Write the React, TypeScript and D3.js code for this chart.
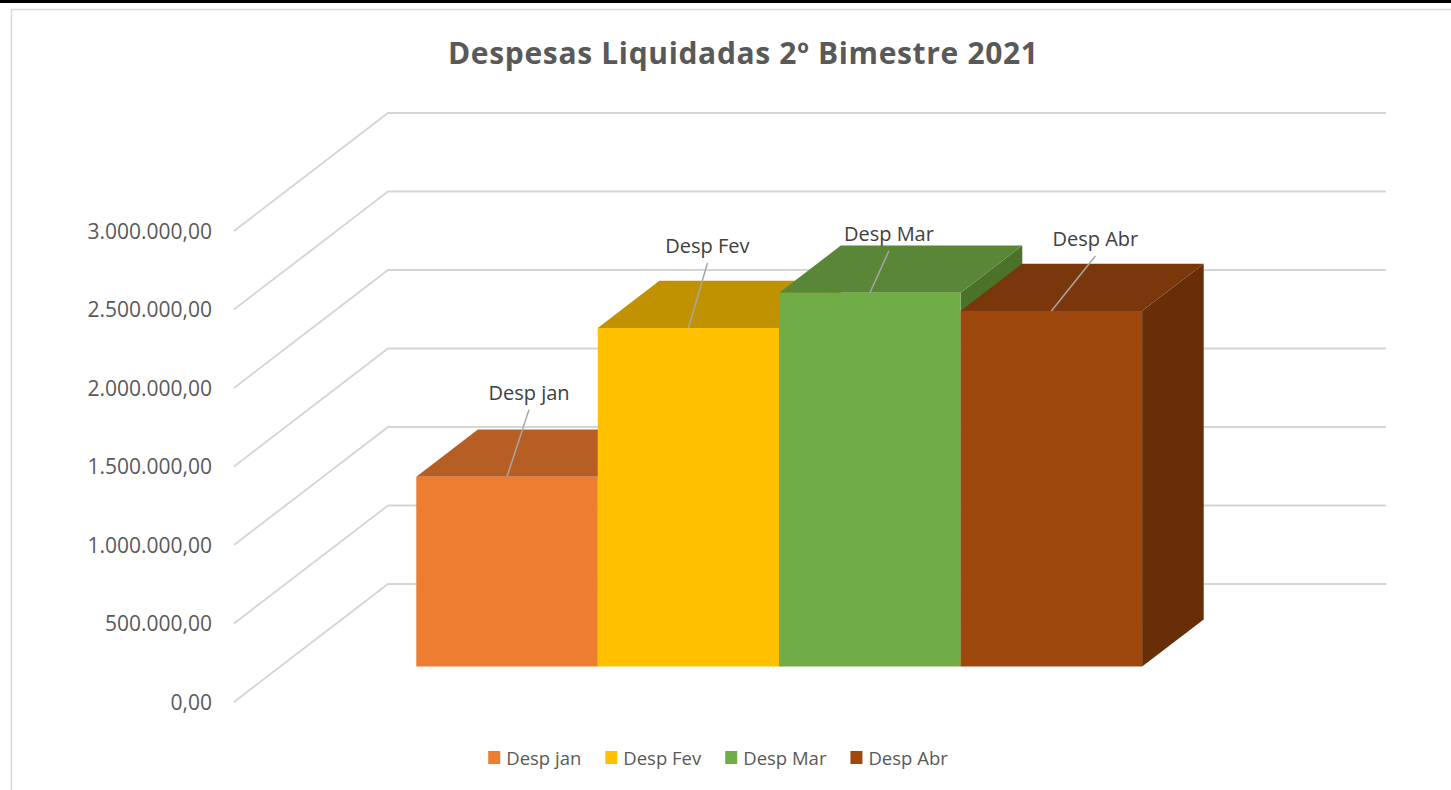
import React, { useEffect, useRef } from "react";
import * as d3 from "d3";

// ---- data ----
const categories: string[] = ["Desp jan", "Desp Fev", "Desp Mar", "Desp Abr"];
const values: number[] = [1210000, 2157000, 2381000, 2265000];
const yTicks: number[] = [0, 500000, 1000000, 1500000, 2000000, 2500000, 3000000];
const titleText = "Despesas Liquidadas 2º Bimestre 2021";

// ---- styles ----
const frontColors = ["#ED7D31", "#FFC000", "#70AD47", "#9E480E"];
const topColors = ["#B65E24", "#C09100", "#5A8637", "#7A370B"];
const sideColors = ["#9B4F1E", "#A37A00", "#4A7229", "#672E08"];
const labelOffsets: [number, number][] = [
  [22, -77],
  [19, -75],
  [19, -52],
  [44, -65],
];

const W = 1451;
const H = 790;

export default function App() {
  const ref = useRef<SVGSVGElement | null>(null);

  useEffect(() => {
    const svg = d3.select(ref.current);
    svg.selectAll("*").remove();

    const font = "'Open Sans', sans-serif";
    const textColor = "#595959";

    // top black rule and chart border
    svg.append("rect").attr("x", 0).attr("y", 0).attr("width", W).attr("height", 3).attr("fill", "#000");
    svg
      .append("rect")
      .attr("x", 11.5)
      .attr("y", 9.5)
      .attr("width", W + 50)
      .attr("height", H + 50)
      .attr("fill", "none")
      .attr("stroke", "#d9d9d9")
      .attr("stroke-width", 1.5);

    // projection
    const originX = 234;
    const originY = 702;
    const DX = 154;
    const DY = 118;
    const floorW = 998;
    const h = d3.scaleLinear().domain([0, 3000000]).range([0, 471]);
    const band = d3
      .scaleBand<string>()
      .domain(categories)
      .range([0, floorW])
      .paddingInner(0)
      .paddingOuter(0.75);
    const P = (x: number, v: number, t: number): [number, number] => [
      originX + x + DX * t,
      originY - h(v) - DY * t,
    ];

    // gridlines (side wall + back wall)
    const grid = svg.append("g");
    yTicks.forEach((v) => {
      const a = P(0, v, 0);
      const b = P(0, v, 1);
      const c = P(floorW, v, 1);
      grid
        .append("polyline")
        .attr("points", [a, b, c].map((p) => p.join(",")).join(" "))
        .attr("fill", "none")
        .attr("stroke", "#d5d5d5")
        .attr("stroke-width", 1.8);
    });

    // axis labels
    const fmt = d3.formatLocale({
      decimal: ",",
      thousands: ".",
      grouping: [3],
      currency: ["R$", ""],
    }).format(",.2f");
    yTicks.forEach((v) => {
      const a = P(0, v, 0);
      svg
        .append("text")
        .attr("x", a[0] - 22)
        .attr("y", a[1] + 7.5)
        .attr("text-anchor", "end")
        .attr("font-family", font)
        .attr("font-size", 21)
        .attr("fill", textColor)
        .text(fmt(v));
    });

    // bars
    const d0 = 0.3;
    const d1 = 0.7;
    const bw = band.bandwidth();
    const poly = (pts: [number, number][], fill: string) =>
      svg
        .append("polygon")
        .attr("points", pts.map((p) => p.join(",")).join(" "))
        .attr("fill", fill);

    categories.forEach((c, i) => {
      const x0 = band(c) as number;
      const x1 = x0 + bw;
      const v = values[i];
      poly([P(x1, 0, d0), P(x1, 0, d1), P(x1, v, d1), P(x1, v, d0)], sideColors[i]);
      poly([P(x0, v, d0), P(x1, v, d0), P(x1, v, d1), P(x0, v, d1)], topColors[i]);
      poly([P(x0, 0, d0), P(x1, 0, d0), P(x1, v, d0), P(x0, v, d0)], frontColors[i]);
    });

    // data labels with leader lines
    categories.forEach((c, i) => {
      const x0 = band(c) as number;
      const v = values[i];
      const [cx, cy] = P(x0 + bw / 2, v, d0);
      const lx = cx + labelOffsets[i][0];
      const ly = cy + labelOffsets[i][1];
      svg
        .append("line")
        .attr("x1", lx)
        .attr("y1", ly + 10)
        .attr("x2", cx)
        .attr("y2", cy)
        .attr("stroke", "#a6a6a6")
        .attr("stroke-width", 1.5);
      svg
        .append("text")
        .attr("x", lx)
        .attr("y", ly)
        .attr("text-anchor", "middle")
        .attr("font-family", font)
        .attr("font-size", 20)
        .attr("fill", "#404040")
        .text(c);
    });

    // title
    svg
      .append("text")
      .attr("x", 743)
      .attr("y", 64)
      .attr("text-anchor", "middle")
      .attr("font-family", font)
      .attr("font-weight", "bold")
      .attr("font-size", 30)
      .attr("fill", textColor)
      .attr("textLength", 590)
      .attr("lengthAdjust", "spacing")
      .text(titleText);

    // legend
    const lg = svg.append("g");
    const items = categories.map((c, i) => {
      const g = lg.append("g");
      g.append("rect").attr("x", 0).attr("y", 751).attr("width", 12).attr("height", 13).attr("fill", frontColors[i]);
      const t = g
        .append("text")
        .attr("x", 18)
        .attr("y", 765)
        .attr("font-family", font)
        .attr("font-size", 18.5)
        .attr("fill", textColor)
        .text(c);
      const tw = (t.node() as SVGTextElement).getComputedTextLength();
      return { g, w: 18 + tw };
    });
    const gap = 24;
    const total = d3.sum(items, (d) => d.w) + gap * (items.length - 1);
    let x = 718 - total / 2;
    items.forEach((it) => {
      it.g.attr("transform", `translate(${x},0)`);
      x += it.w + gap;
    });
  }, []);

  return (
    <svg
      ref={ref}
      width={W}
      height={H}
      style={{ position: "absolute", left: 0, top: 0, display: "block", background: "#fff" }}
    />
  );
}
